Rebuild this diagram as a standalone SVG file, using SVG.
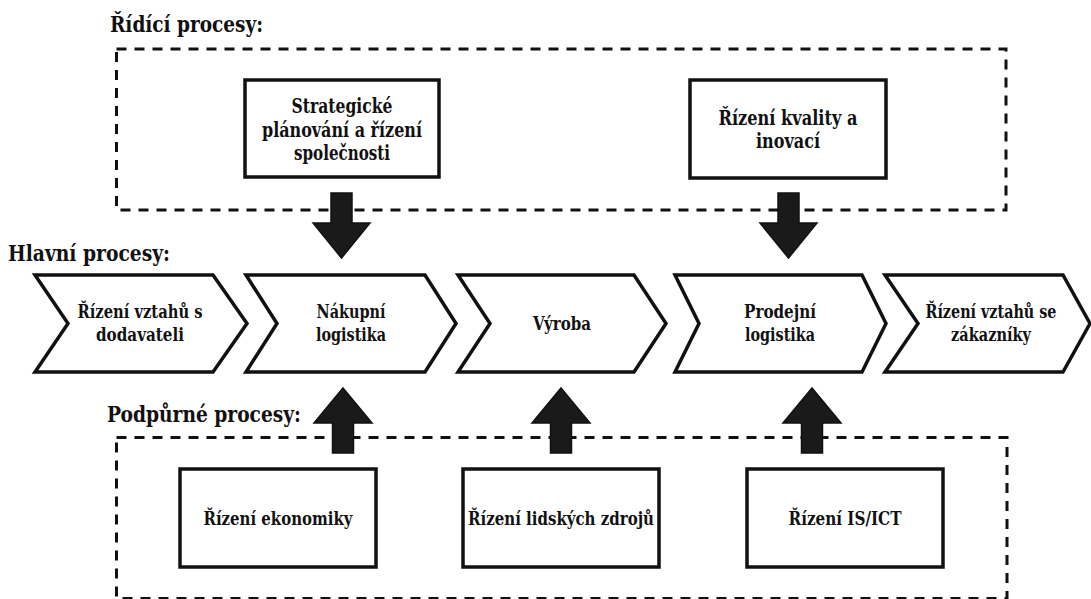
<svg xmlns="http://www.w3.org/2000/svg" width="1091" height="599" viewBox="0 0 1091 599">
  <style>
    .bg { fill: #ffffff; }
    text { font-family: 'DejaVu Serif', serif; font-weight: bold; fill: #111; }
    .title { font-size: 23px; }
    .lbl { font-size: 18.5px; text-anchor: middle; }
    .lbl-lg { font-size: 20px; text-anchor: middle; }
    .group { fill: none; stroke: #111; stroke-width: 3; stroke-dasharray: 10 8; }
    .box { fill: #ffffff; stroke: #111; stroke-width: 3.5; }
    .chev { fill: #ffffff; stroke: #111; stroke-width: 3.5; stroke-linejoin: miter; }
    .arrow { fill: #1a1a1a; stroke: #111; stroke-width: 1.5; stroke-linejoin: miter; }
  </style>

  <rect class="bg" x="0" y="0" width="1091" height="599"/>

  <!-- Section headings -->
  <text class="title" x="110" y="32" textLength="153" lengthAdjust="spacingAndGlyphs">Řídící procesy:</text>
  <text class="title" x="8" y="261" textLength="162" lengthAdjust="spacingAndGlyphs">Hlavní procesy:</text>
  <text class="title" x="107" y="422" textLength="194" lengthAdjust="spacingAndGlyphs">Podpůrné procesy:</text>

  <!-- Group frames -->
  <rect id="control-frame" class="group" x="116.5" y="49" width="889.5" height="161"/>
  <rect id="support-frame" class="group" x="116.5" y="437.5" width="890.5" height="161"/>

  <!-- Control processes -->
  <g id="strategic-planning">
    <rect class="box" x="245" y="80" width="194" height="97"/>
    <text class="lbl-lg" x="342" y="113" textLength="101" lengthAdjust="spacingAndGlyphs">Strategické</text>
    <text class="lbl-lg" x="342" y="137" textLength="160" lengthAdjust="spacingAndGlyphs">plánování a řízení</text>
    <text class="lbl-lg" x="342" y="160" textLength="96" lengthAdjust="spacingAndGlyphs">společnosti</text>
  </g>
  <g id="quality-innovation">
    <rect class="box" x="690" y="80" width="196" height="98"/>
    <text class="lbl-lg" x="788" y="125" textLength="139" lengthAdjust="spacingAndGlyphs">Řízení kvality a</text>
    <text class="lbl-lg" x="788" y="148" textLength="64" lengthAdjust="spacingAndGlyphs">inovací</text>
  </g>

  <!-- Main value chain -->
  <g id="supplier-relations">
    <polygon class="chev" points="35,275 213,275 247,323.5 213,372 35,372 68,323.5"/>
    <text class="lbl" x="140" y="318" textLength="125" lengthAdjust="spacingAndGlyphs">Řízení vztahů s</text>
    <text class="lbl" x="140" y="341" textLength="88" lengthAdjust="spacingAndGlyphs">dodavateli</text>
  </g>
  <g id="inbound-logistics">
    <polygon class="chev" points="246,275 425,275 456,323.5 425,372 246,372 277,323.5"/>
    <text class="lbl" x="351" y="318" textLength="69" lengthAdjust="spacingAndGlyphs">Nákupní</text>
    <text class="lbl" x="351" y="341" textLength="70" lengthAdjust="spacingAndGlyphs">logistika</text>
  </g>
  <g id="production">
    <polygon class="chev" points="458,275 634,275 666,323.5 634,372 458,372 490,323.5"/>
    <text class="lbl" x="562" y="330" textLength="58" lengthAdjust="spacingAndGlyphs">Výroba</text>
  </g>
  <g id="outbound-logistics">
    <polygon class="chev" points="675,275 862,275 886,323.5 862,372 675,372 699,323.5"/>
    <text class="lbl" x="780" y="318" textLength="72" lengthAdjust="spacingAndGlyphs">Prodejní</text>
    <text class="lbl" x="780" y="341" textLength="70" lengthAdjust="spacingAndGlyphs">logistika</text>
  </g>
  <g id="customer-relations">
    <polygon class="chev" points="885,275 1063,275 1090,323.5 1063,372 885,372 918,323.5"/>
    <text class="lbl" x="991" y="318" textLength="131" lengthAdjust="spacingAndGlyphs">Řízení vztahů se</text>
    <text class="lbl" x="991" y="341" textLength="80" lengthAdjust="spacingAndGlyphs">zákazníky</text>
  </g>

  <!-- Support processes -->
  <g id="economics">
    <rect class="box" x="180" y="469" width="196" height="98"/>
    <text class="lbl" x="278" y="525" textLength="149" lengthAdjust="spacingAndGlyphs">Řízení ekonomiky</text>
  </g>
  <g id="human-resources">
    <rect class="box" x="463" y="469" width="196" height="98"/>
    <text class="lbl" x="561" y="525" textLength="186" lengthAdjust="spacingAndGlyphs">Řízení lidských zdrojů</text>
  </g>
  <g id="is-ict">
    <rect class="box" x="747" y="469" width="196" height="98"/>
    <text class="lbl" x="845" y="525" textLength="113" lengthAdjust="spacingAndGlyphs">Řízení IS/ICT</text>
  </g>

  <!-- Block arrows between layers -->
  <g id="connectors">
    <polygon class="arrow" points="331,193 352,193 352,223 370,223 341.5,258 313,223 331,223"/>
    <polygon class="arrow" points="778,193 799,193 799,223 817,223 788.5,258 760,223 778,223"/>
    <polygon class="arrow" points="343,388 372,423 353.5,423 353.5,453 332.5,453 332.5,423 314,423"/>
    <polygon class="arrow" points="561,388 590,423 571.5,423 571.5,453 550.5,453 550.5,423 532,423"/>
    <polygon class="arrow" points="812,388 841,423 822.5,423 822.5,453 801.5,453 801.5,423 783,423"/>
  </g>
</svg>
